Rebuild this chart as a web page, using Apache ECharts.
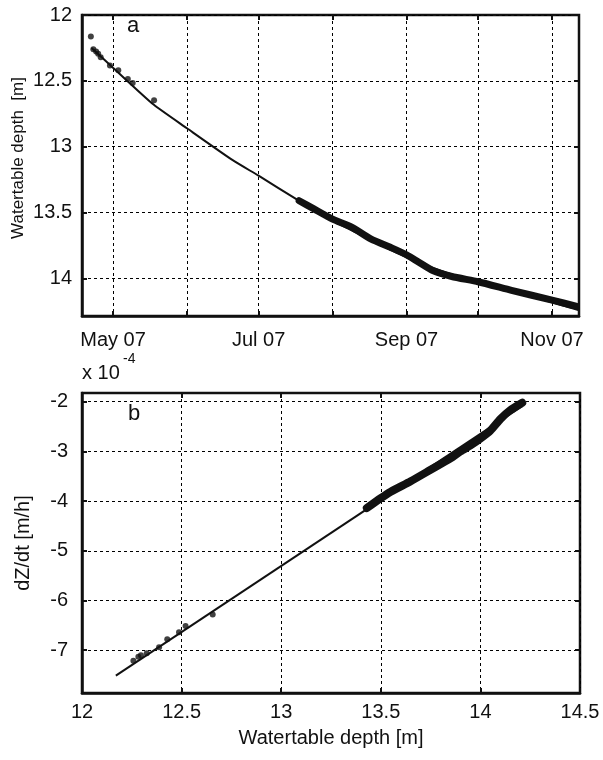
<!DOCTYPE html>
<html>
<head>
<meta charset="utf-8">
<script src="https://cdn.jsdelivr.net/npm/echarts@6/dist/echarts.min.js"></script>
<style>
html,body{margin:0;padding:0;background:#fff;}
#chart{width:603px;height:760px;}
</style>
</head>
<body>
<div id="chart"></div>
<script>
// ---------- Panel a : watertable depth vs time ----------
const topScatterDates = ['2007-04-21 17:00','2007-04-22 18:00','2007-04-23 22:00','2007-04-24 19:00','2007-04-25 20:00','2007-04-29 17:00','2007-05-03 05:00','2007-05-07 05:00','2007-05-09 06:00','2007-05-18 05:00'];
const topScatterDepth = [12.164,12.26,12.278,12.295,12.32,12.384,12.42,12.485,12.517,12.648];

const topDenseDates = ['2007-07-18','2007-07-24','2007-08-01','2007-08-09','2007-08-17','2007-08-26','2007-09-01','2007-09-06','2007-09-12','2007-09-20','2007-10-01','2007-10-15','2007-11-01','2007-11-11'];
const topDenseDepth = [13.41,13.47,13.55,13.61,13.70,13.77,13.82,13.875,13.94,13.985,14.025,14.09,14.165,14.21];

const topFitDates = ['2007-04-22','2007-05-01','2007-05-18','2007-06-01','2007-06-20','2007-07-01','2007-07-17','2007-08-01','2007-08-15','2007-09-01','2007-09-15','2007-10-01','2007-10-15','2007-11-01','2007-11-12'];
const topFitDepth = [12.25,12.40,12.68,12.86,13.10,13.22,13.40,13.56,13.69,13.84,13.94,14.03,14.10,14.18,14.24];

const topTickDates = ['2007-05-01','2007-06-01','2007-07-01','2007-08-01','2007-09-01','2007-10-01','2007-11-01'];
const topLabelDates = ['2007-05-01','2007-07-01','2007-09-01','2007-11-01'];
const topLabels = ['May 07','Jul 07','Sep 07','Nov 07'];
const topYTicks = [12,12.5,13,13.5,14];

// ---------- Panel b : dZ/dt vs depth (x 1e-4) ----------
const botScatterDepth = [12.258,12.283,12.296,12.325,12.387,12.428,12.487,12.52,12.656];
const botScatterRate = [-7.21,-7.13,-7.10,-7.06,-6.94,-6.78,-6.64,-6.51,-6.28];

const botDenseDepth = [13.43,13.50,13.55,13.65,13.75,13.85,13.90,13.95,14.00,14.05,14.10,14.15,14.21];
const botDenseRate = [-4.14,-3.94,-3.81,-3.60,-3.37,-3.14,-3.00,-2.88,-2.74,-2.58,-2.35,-2.17,-2.02];

const botFitDepth = [12.17,14.21];
const botFitRate = [-7.51,-2.09];

const botYTicks = [-7,-6,-5,-4,-3,-2];

function t(s){
  const parts = s.split(' ');
  const d = parts[0].split('-').map(Number);
  const h = parts[1] ? Number(parts[1].split(':')[0]) : 0;
  return Date.UTC(d[0], d[1]-1, d[2], h);
}
function pairs(xs, ys){ return xs.map((x,i)=>[x, ys[i]]); }

const FONT = '"Liberation Sans", Arial, Helvetica, sans-serif';
const INK = '#111';
const labelStyle = {color: INK, fontSize: 20, fontFamily: FONT};
const gridLine = {show: true, lineStyle: {color: '#000', width: 1, type: [3,3]}};
const tickStyle = {show: true, inside: true, length: 5, lineStyle: {color: INK, width: 2}};

const topTicksT = topTickDates.map(t);
const topLabelsT = topLabelDates.map(t);

const chart = echarts.init(document.getElementById('chart'), null, {renderer: 'canvas'});
chart.setOption({
  animation: false,
  backgroundColor: '#fff',
  grid: [
    {left: 82, top: 15, width: 497, height: 301, show: true, borderColor: INK, borderWidth: 2.5, containLabel: false},
    {left: 82, top: 393, width: 498, height: 300, show: true, borderColor: INK, borderWidth: 2.5, containLabel: false}
  ],
  xAxis: [
    {type: 'value', gridIndex: 0, position: 'bottom', min: t('2007-04-18'), max: t('2007-11-12 07:00'),
     axisLine: {show: true, onZero: false, lineStyle: {color: INK, width: 2.5}},
     axisTick: Object.assign({customValues: topTicksT}, tickStyle),
     axisLabel: Object.assign({customValues: topLabelsT, margin: 14,
       formatter: v => { const i = topLabelsT.indexOf(v); return i >= 0 ? topLabels[i] : ''; }}, labelStyle),
     splitLine: gridLine},
    {type: 'value', gridIndex: 0, position: 'top', min: t('2007-04-18'), max: t('2007-11-12 07:00'),
     axisLine: {show: false}, axisTick: Object.assign({customValues: topTicksT}, tickStyle),
     axisLabel: {show: false}, splitLine: {show: false}},
    {type: 'value', gridIndex: 1, position: 'bottom', min: 12, max: 14.5, interval: 0.5,
     name: 'Watertable depth [m]', nameLocation: 'middle', nameGap: 35,
     nameTextStyle: {color: INK, fontSize: 20, fontFamily: FONT},
     axisLine: {show: true, onZero: false, lineStyle: {color: INK, width: 2.5}},
     axisTick: tickStyle,
     axisLabel: Object.assign({margin: 9, formatter: v => String(v)}, labelStyle),
     splitLine: gridLine},
    {type: 'value', gridIndex: 1, position: 'top', min: 12, max: 14.5, interval: 0.5,
     axisLine: {show: false}, axisTick: tickStyle, axisLabel: {show: false}, splitLine: {show: false}}
  ],
  yAxis: [
    {type: 'value', gridIndex: 0, position: 'left', inverse: true, min: 12, max: 14.285,
     axisLine: {show: true, onZero: false, lineStyle: {color: INK, width: 2.5}},
     axisTick: Object.assign({customValues: topYTicks}, tickStyle),
     axisLabel: Object.assign({customValues: topYTicks, margin: 10, formatter: v => String(v)}, labelStyle),
     splitLine: gridLine},
    {type: 'value', gridIndex: 0, position: 'right', inverse: true, min: 12, max: 14.285,
     axisLine: {show: false}, axisTick: Object.assign({customValues: topYTicks}, tickStyle),
     axisLabel: {show: false}, splitLine: {show: false}},
    {type: 'value', gridIndex: 1, position: 'left', min: -7.86, max: -1.825,
     name: 'dZ/dt [m/h]', nameLocation: 'middle', nameGap: 49,
     nameTextStyle: {color: INK, fontSize: 20, fontFamily: FONT},
     axisLine: {show: true, onZero: false, lineStyle: {color: INK, width: 2.5}},
     axisTick: Object.assign({customValues: botYTicks}, tickStyle),
     axisLabel: Object.assign({customValues: botYTicks, margin: 14, formatter: v => String(v)}, labelStyle),
     splitLine: gridLine},
    {type: 'value', gridIndex: 1, position: 'right', min: -7.86, max: -1.825,
     axisLine: {show: false}, axisTick: Object.assign({customValues: botYTicks}, tickStyle),
     axisLabel: {show: false}, splitLine: {show: false}}
  ],
  series: [
    {type: 'line', xAxisIndex: 0, yAxisIndex: 0, data: pairs(topFitDates.map(t), topFitDepth),
     showSymbol: false, smooth: 0.2, lineStyle: {color: INK, width: 2}, z: 3},
    {type: 'line', xAxisIndex: 0, yAxisIndex: 0, data: pairs(topDenseDates.map(t), topDenseDepth),
     showSymbol: false, smooth: 0.2, lineStyle: {color: INK, width: 7, cap: 'round', join: 'round'}, z: 4},
    {type: 'scatter', xAxisIndex: 0, yAxisIndex: 0, data: pairs(topScatterDates.map(t), topScatterDepth),
     symbol: 'circle', symbolSize: 6, itemStyle: {color: INK}, z: 5},
    {type: 'line', xAxisIndex: 2, yAxisIndex: 2, data: pairs(botFitDepth, botFitRate),
     showSymbol: false, lineStyle: {color: INK, width: 2}, z: 3},
    {type: 'line', xAxisIndex: 2, yAxisIndex: 2, data: pairs(botDenseDepth, botDenseRate),
     showSymbol: false, smooth: 0.2, lineStyle: {color: INK, width: 8, cap: 'round', join: 'round'}, z: 4},
    {type: 'scatter', xAxisIndex: 2, yAxisIndex: 2, data: pairs(botScatterDepth, botScatterRate),
     symbol: 'circle', symbolSize: 6, itemStyle: {color: INK}, z: 5}
  ],
  graphic: [
    {type: 'text', x: 18, y: 158, rotation: Math.PI / 2, z: 10,
     style: {text: 'Watertable depth  [m]', fill: INK, font: '17px ' + FONT, align: 'center', verticalAlign: 'middle'}},
    {type: 'text', left: 127, top: 15, z: 10, style: {text: 'a', fill: INK, font: '22px ' + FONT}},
    {type: 'text', left: 128, top: 403, z: 10, style: {text: 'b', fill: INK, font: '22px ' + FONT}},
    {type: 'text', left: 82, top: 363, z: 10, style: {text: 'x 10', fill: INK, font: '20px ' + FONT}},
    {type: 'text', left: 123, top: 352, z: 10, style: {text: '-4', fill: INK, font: '14px ' + FONT}}
  ]
});
</script>
</body>
</html>
